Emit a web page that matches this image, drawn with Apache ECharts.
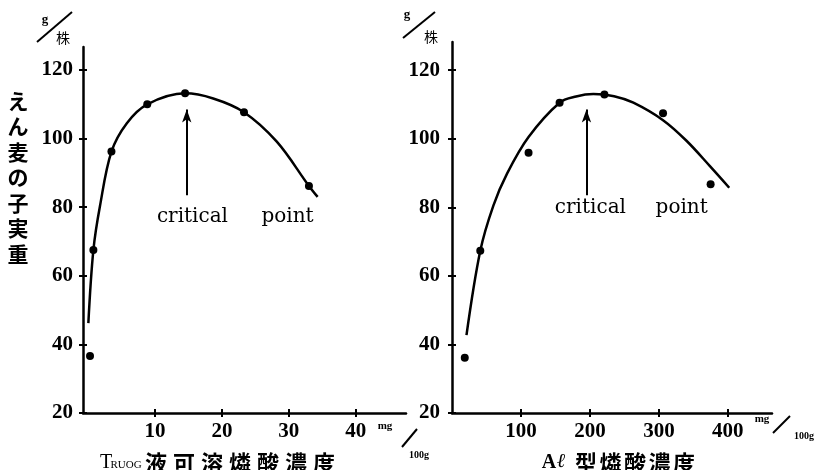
<!DOCTYPE html>
<html>
<head>
<meta charset="utf-8">
<script src="https://cdn.jsdelivr.net/npm/echarts@6.0.0/dist/echarts.min.js"></script>
<style>
html,body{margin:0;padding:0;background:#fff}
#c{width:817px;height:470px}
</style>
</head>
<body>
<div id="c"></div>
<script>
// Oat grain weight (g per plant) against soil phosphate concentration (mg/100g)
// Truog-soluble phosphate: measured points and fitted curve
const truogPoints = [[0.3, 36.6], [0.8, 67.5], [3.5, 96.2], [8.85, 110], [14.5, 113.2], [23.3, 107.7], [33, 86.2]];
const truogCurve = [[0.05, 46.2], [0.8, 67.5], [1.8, 80.5], [3.5, 96.2], [5.8, 104.5], [8.85, 110], [14.5, 113.2],
  [18.7, 111.7], [23.3, 107.7], [28.2, 99.1], [33, 86.2], [34.3, 83]];
// Al-type phosphate: measured points and fitted curve
const alPoints = [[18.5, 36.1], [41, 67.3], [111, 95.9], [156, 110.5], [221, 112.9], [306, 107.4], [375, 86.7]];
const alCurve = [[21, 42.7], [41, 67.3], [60, 80.5], [80, 89.9], [111, 100.5], [156, 110.5], [180, 112.3],
  [205, 113], [235, 112.4], [263, 110.5], [306, 105.4], [340, 99.4], [374, 92], [402, 85.7]];
// Tick labels
const yTicks = [20, 40, 60, 80, 100, 120];
const truogTicks = [10, 20, 30, 40];
const alTicks = [100, 200, 300, 400];
// Critical point (peak) positions on each x scale
const truogCritical = 14.75;
const alCritical = 195;

const serif = '"Liberation Serif", "DejaVu Serif", serif';
const cjk = '"Noto Sans CJK JP", sans-serif';
const ink = '#000';

function mainAxis(gridIndex, position, min, max, ticks, margin) {
  return {
    type: 'value', gridIndex, position, min, max,
    axisLine: { show: true, onZero: false, lineStyle: { color: ink, width: 2.5 } },
    axisTick: { show: true, customValues: ticks, length: 4, lineStyle: { color: ink, width: 2 } },
    axisLabel: { customValues: ticks, margin, color: ink, fontSize: 21, fontWeight: 'bold', fontFamily: serif },
    splitLine: { show: false }
  };
}
// second axis on the same side, carrying only the inner half of each tick
function tickAxis(gridIndex, position, min, max, ticks) {
  return {
    type: 'value', gridIndex, position, min, max,
    axisLine: { show: false, onZero: false },
    axisTick: { show: true, inside: true, customValues: ticks, length: 4, lineStyle: { color: ink, width: 2 } },
    axisLabel: { show: false },
    splitLine: { show: false }
  };
}

function arrow(x) {
  return {
    silent: true,
    symbol: ['none', 'arrow'],
    symbolSize: [7, 13],
    label: { show: false },
    lineStyle: { color: ink, width: 2, type: 'solid' },
    data: [[{ coord: [x, 83.5] }, { coord: [x, 108.5] }]]
  };
}
function words(items) {
  return {
    silent: true,
    symbol: 'circle',
    symbolSize: 1,
    itemStyle: { color: 'transparent' },
    label: {
      show: true, position: 'inside', formatter: p => p.name,
      color: ink, fontSize: 20, fontFamily: '"DejaVu Serif", serif'
    },
    data: items.map(d => ({ name: d[0], coord: d[1] }))
  };
}

const curveStyle = { color: ink, width: 2.5 };
const dotStyle = { color: ink, opacity: 1 };

const option = {
  animation: false,
  backgroundColor: '#fff',
  grid: [
    { left: 83, top: 47, width: 323, height: 366 },
    { left: 452, top: 42, width: 320, height: 371 }
  ],
  xAxis: [
    mainAxis(0, 'bottom', -0.75, 47.5, truogTicks, 8),
    tickAxis(0, 'bottom', -0.75, 47.5, truogTicks),
    mainAxis(1, 'bottom', 0, 464, alTicks, 8),
    tickAxis(1, 'bottom', 0, 464, alTicks)
  ],
  yAxis: [
    mainAxis(0, 'left', 20, 126.7, yTicks, 10),
    tickAxis(0, 'left', 20, 126.7, yTicks),
    mainAxis(1, 'left', 20, 128.2, yTicks, 12),
    tickAxis(1, 'left', 20, 128.2, yTicks)
  ],
  series: [
    {
      type: 'line', xAxisIndex: 0, yAxisIndex: 0, data: truogCurve, smooth: 0.35,
      showSymbol: false, symbol: 'none', lineStyle: curveStyle, silent: true,
      markLine: arrow(truogCritical),
      markPoint: words([['critical', [15.6, 77.1]], ['point', [29.8, 77.1]]])
    },
    {
      type: 'scatter', xAxisIndex: 0, yAxisIndex: 0, data: truogPoints,
      symbolSize: 8, itemStyle: dotStyle, silent: true
    },
    {
      type: 'line', xAxisIndex: 2, yAxisIndex: 2, data: alCurve, smooth: 0.35,
      showSymbol: false, symbol: 'none', lineStyle: curveStyle, silent: true,
      markLine: arrow(alCritical),
      markPoint: words([['critical', [200.7, 79.8]], ['point', [333, 79.8]]])
    },
    {
      type: 'scatter', xAxisIndex: 2, yAxisIndex: 2, data: alPoints,
      symbolSize: 8, itemStyle: dotStyle, silent: true
    }
  ],
  graphic: []
};

// unit marks and axis names
const g = [];
function txt(text, x, y, size, family, extra) {
  g.push({
    type: 'text', x, y, silent: true,
    style: Object.assign({ text, fill: ink, fontSize: size, fontFamily: family, align: 'center', verticalAlign: 'middle' }, extra || {})
  });
}
function slash(x1, y1, x2, y2) {
  g.push({ type: 'line', silent: true, shape: { x1, y1, x2, y2 }, style: { stroke: ink, lineWidth: 2 } });
}
function spread(chars, x0, pitch, y, size, family, extra) {
  Array.from(chars).forEach((ch, i) => txt(ch, x0 + i * pitch, y, size, family, extra));
}

// g / 株 above the y axes
txt('g', 45, 20, 13, serif, { fontWeight: 'bold' });
slash(37, 42, 72, 12);
txt('株', 63, 38, 14, cjk);
txt('g', 407, 15, 13, serif, { fontWeight: 'bold' });
slash(403, 38, 435, 12);
txt('株', 431, 37, 14, cjk);

// mg / 100g beside the x axes
txt('mg', 385, 426, 11, serif, { fontWeight: 'bold' });
slash(417, 429, 402, 447);
txt('100g', 419, 455, 10, serif, { fontWeight: 'bold' });
txt('mg', 762, 419, 11, serif, { fontWeight: 'bold' });
slash(773, 433, 790, 416);
txt('100g', 804, 436, 10, serif, { fontWeight: 'bold' });

// y axis name, set vertically
g.push({
  type: 'text', x: 18, y: 88, silent: true,
  style: { text: 'え\nん\n麦\nの\n子\n実\n重', fill: ink, fontSize: 21, fontWeight: 'bold', lineHeight: 25.5, fontFamily: cjk, align: 'center', verticalAlign: 'top' }
});

// x axis names
txt('T', 106, 463, 20, serif);
txt('RUOG', 126, 465, 11, serif);
spread('液可溶燐酸濃度', 156, 28, 463, 22, cjk, { fontWeight: 'bold' });
txt('A', 549, 463, 20, serif, { fontWeight: 'bold' });
txt('ℓ', 561, 462, 20, serif, { fontStyle: 'italic' });
spread('型燐酸濃度', 586, 24.5, 463, 22, cjk, { fontWeight: 'bold' });

option.graphic = g;

const chart = echarts.init(document.getElementById('c'), null, { renderer: 'canvas' });
chart.setOption(option);
</script>
</body>
</html>
